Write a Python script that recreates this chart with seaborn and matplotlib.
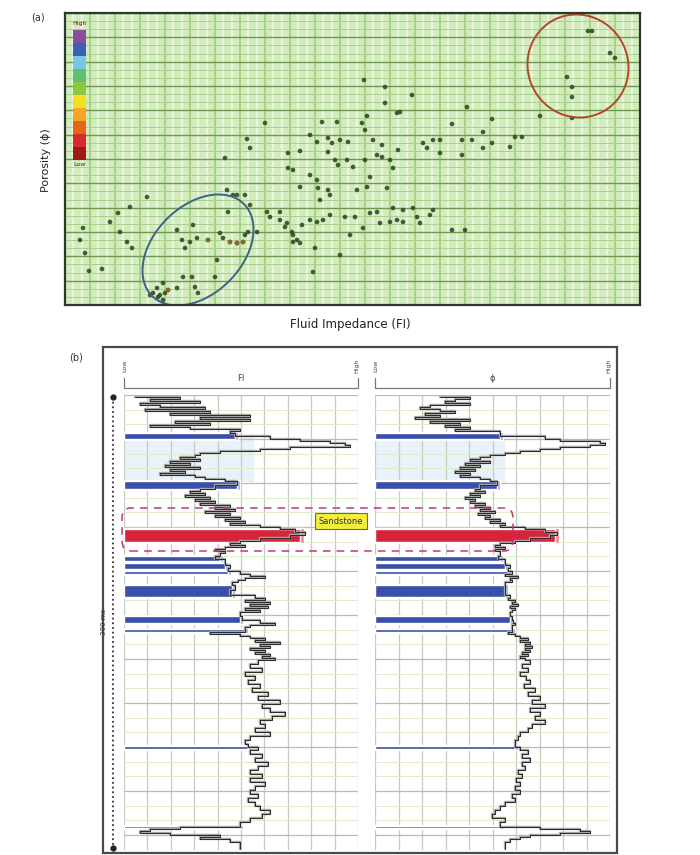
import numpy as np
import pandas as pd
import matplotlib
matplotlib.use('Agg')
import matplotlib.pyplot as plt
import seaborn as sns
from matplotlib.patches import Ellipse, Rectangle, FancyBboxPatch
from matplotlib.colors import ListedColormap
from matplotlib.ticker import MultipleLocator
from matplotlib.lines import Line2D

# ---------------- data: panel (a) crossplot (relative units) ----------------
fi_pts = [523, 527, 545, 550, 502, 507, 507, 475, 507,
          347, 387, 427, 418, 358, 362, 368, 375, 375, 397, 407, 397, 418, 427, 445, 450, 457, 402,
          299, 320, 320, 332, 335, 200, 257, 272, 297, 302, 182, 185, 160, 223, 235, 245, 252, 263,
          267, 275, 283, 263, 270, 273, 282, 288, 300, 308, 317, 312, 317, 325, 333, 328, 300, 305,
          223, 228, 245, 252, 235, 253, 263, 292, 302, 322, 255, 265, 280, 290, 312, 315, 305, 328,
          338, 348, 352, 365, 162, 168, 180, 185, 202, 205, 215, 222,
          82, 65, 53, 45, 18, 15, 55, 62, 67, 20, 24, 37, 172, 163, 112, 128, 117, 125, 132, 143,
          155, 158, 165, 172, 178, 183, 180, 120, 152, 118, 127, 150, 130, 98, 92, 88, 95, 100, 103,
          112, 98, 93, 85, 133, 192, 215, 232, 228, 250, 248,
          220, 227, 228, 235, 237, 245, 252, 258, 265, 325, 332, 338, 355, 368, 387, 400, 285, 298, 275]
phi_pts = [274, 274, 252, 247, 228, 218, 208, 189, 187,
           210, 181, 186, 173, 162, 157, 165, 165, 152, 165, 165, 150, 157, 162, 158, 168, 168, 198,
           225, 218, 202, 192, 193, 182, 183, 183, 182, 189, 166, 157, 147, 152, 154, 170, 163, 167,
           162, 165, 163, 153, 145, 140, 145, 138, 175, 165, 160, 150, 148, 145, 155, 137, 145, 128,
           137, 135, 130, 125, 118, 117, 115, 115, 118, 117, 105, 110, 88, 88, 93, 82, 92, 97,
           95, 97, 88, 90, 115, 110, 110, 100, 93, 88, 93, 82,
           108, 98, 92, 83, 77, 65, 73, 63, 57, 52, 34, 36, 110, 93, 75, 80, 65, 63, 67, 65,
           72, 67, 63, 62, 63, 73, 70, 57, 45, 28, 28, 28, 18, 22, 17, 12, 10, 12, 15,
           17, 5, 8, 10, 12, 73, 85, 65, 70, 57, 33,
           78, 73, 63, 62, 80, 85, 83, 85, 90, 83, 85, 83, 82, 95, 75, 75, 70, 77, 50]
warm_fi = [165, 172, 178, 143, 103]
warm_phi = [63, 62, 63, 65, 15]

cb_colors = ['#8b4c9e', '#3d5fb2', '#78c6e6', '#5fbf73', '#8dc63f',
             '#f2e21f', '#f5a623', '#e8641b', '#d62c26', '#9e1a1a']

# ---------------- data: panel (b) well logs ----------------
depth = [2, 4, 6, 8, 10, 12, 14, 16, 18, 20, 22, 24, 26, 28, 30, 32, 34, 36, 38, 41, 44, 46, 48,
         50, 52, 54, 56, 58, 60, 62, 64, 66, 68, 70, 72, 74, 76, 78, 80, 82, 84, 86, 90, 94, 96,
         98, 100, 102, 104, 106, 108, 110, 112, 114, 116, 118, 120, 122, 124, 126, 128, 130, 132,
         134, 137, 140, 143, 146, 148, 150, 152, 154, 156, 158, 161, 164, 167, 170, 173, 176, 179,
         181, 183, 185, 187, 190, 195, 200, 203, 205, 207, 209, 211, 213, 215, 217, 219, 221, 225,
         228, 230, 232, 234, 237, 239, 241, 243, 245, 247, 249, 251, 253, 255, 257, 259, 261, 263,
         265, 269, 273, 277, 281, 285, 289, 293, 297, 301, 305, 309, 313, 317, 321, 325, 329, 333,
         337, 341, 345, 349, 352, 355, 359, 363, 367, 371, 375, 379, 383, 387, 391, 395, 399, 403,
         407, 411, 415, 419, 423, 427, 432, 434, 436, 438, 440, 442, 444, 447, 451, 454]
fi_log = [11, 56, 26, 76, 16, 36, 81, 21, 86, 46, 126, 76, 126, 51, 86, 26, 66, 116, 106, 111, 146,
          176, 206, 221, 226, 166, 136, 96, 76, 71, 56, 76, 46, 66, 41, 76, 46, 61, 36, 71, 81, 101,
          113, 91, 76, 66, 81, 61, 86, 71, 91, 76, 106, 91, 111, 81, 106, 91, 116, 101, 121, 106, 136,
          156, 171, 181, 166, 136, 116, 106, 121, 101, 91, 101, 96, 91, 101, 101, 106, 104, 116, 126,
          141, 121, 114, 108, 111, 106, 131, 141, 121, 146, 126, 144, 121, 136, 116, 116, 118, 136,
          151, 126, 121, 121, 86, 116, 126, 141, 131, 156, 136, 146, 126, 141, 131, 146, 138, 151,
          134, 126, 138, 121, 131, 124, 136, 128, 144, 134, 156, 138, 146, 161, 148, 136, 141, 131,
          146, 126, 121, 124, 134, 126, 138, 131, 144, 134, 126, 138, 126, 141, 131, 126, 134, 124,
          131, 136, 146, 138, 126, 116, 56, 26, 16, 46, 96, 76, 106, 116, 116]
phi_log = [65, 95, 80, 70, 95, 55, 45, 65, 80, 50, 65, 40, 95, 55, 85, 70, 95, 80, 125, 125, 170,
           185, 225, 230, 215, 185, 165, 145, 130, 115, 105, 95, 115, 90, 105, 85, 100, 80, 95, 85,
           105, 115, 122, 105, 100, 110, 95, 105, 90, 100, 95, 110, 100, 115, 105, 120, 103, 115, 110,
           125, 115, 130, 125, 150, 170, 182, 175, 155, 140, 125, 120, 130, 120, 125, 125, 123, 130,
           130, 135, 133, 137, 130, 143, 135, 137, 130, 130, 130, 135, 133, 140, 137, 143, 135, 140,
           137, 135, 135, 137, 138, 140, 137, 137, 137, 133, 140, 145, 153, 145, 155, 150, 157, 150,
           155, 147, 153, 145, 150, 155, 147, 153, 145, 151, 155, 149, 160, 153, 165, 157, 170, 155,
           165, 160, 170, 157, 153, 145, 143, 140, 140, 145, 153, 147, 155, 147, 150, 143, 147, 141,
           145, 140, 145, 137, 140, 130, 125, 120, 117, 130, 125, 165, 205, 215, 185, 155, 145, 135,
           130, 130]

# highlighted low-FI intervals (blue) and sandstone interval (red)
bar_top = [38, 86, 161, 168, 176, 190, 221, 234, 351, 431]
bar_bot = [44, 94, 166, 174, 179, 202, 228, 237, 354, 433]
bar_fi = [111, 113, 96, 101, 104, 108, 116, 121, 124, 116]
bar_phi = [125, 122, 125, 130, 133, 130, 135, 137, 140, 125]
sand_top, sand_bot = 134, 147
sand_fi, sand_phi = 176, 180

# ---------------- figure ----------------
sns.set_theme(style='white')
plt.rcParams['font.family'] = ['DejaVu Sans']

W, H = 700, 855
fig = plt.figure(figsize=(7, 8.55), dpi=100)
fig.patch.set_facecolor('white')


def fbox(x0, y0, x1, y1):
    return [x0 / W, 1 - y1 / H, (x1 - x0) / W, (y1 - y0) / H]


def fx(x):
    return x / W


def fy(y):
    return 1 - y / H


# ---- panel (a) ----
axa = fig.add_axes(fbox(65, 13, 640, 305))
axa.set_facecolor('#d3ecbd')
axa.set_xlim(0, 575)
axa.set_ylim(0, 292)
axa.xaxis.set_major_locator(MultipleLocator(25))
axa.xaxis.set_minor_locator(MultipleLocator(25 / 3))
axa.yaxis.set_major_locator(MultipleLocator(292 / 12))
axa.yaxis.set_minor_locator(MultipleLocator(292 / 36))
axa.grid(which='minor', axis='x', color='#eaf6df', lw=1.6)
axa.grid(which='major', axis='x', color='#9ecb7f', lw=1.1)
axa.grid(which='minor', axis='y', color='#a9d28c', lw=0.7)
axa.grid(which='major', axis='y', color='#6e9a50', lw=1.0)
axa.set_axisbelow(True)
axa.tick_params(which='both', length=0, labelbottom=False, labelleft=False)
for s in axa.spines.values():
    s.set_color('#2b3a2b')
    s.set_linewidth(1.6)

sns.scatterplot(x=fi_pts, y=phi_pts, ax=axa, s=11, color='#2f4b2a',
                edgecolor='none', linewidth=0, legend=False, alpha=0.9)
sns.scatterplot(x=warm_fi, y=warm_phi, ax=axa, s=11, color='#8a6a2a',
                edgecolor='none', linewidth=0, legend=False)

axa.add_patch(Ellipse((133, 55), 130, 88, angle=45, fill=False,
                      ec='#3f6287', lw=1.4))
axa.add_patch(Ellipse((513, 239), 100, 104, angle=30, fill=False,
                      ec='#b4472b', lw=1.4))
axa.set_xlabel('')
axa.set_ylabel('')

# colour scale inset
axc = fig.add_axes(fbox(73, 30, 86, 160))
axc.imshow(np.arange(len(cb_colors))[:, None], cmap=ListedColormap(cb_colors),
           aspect='auto', interpolation='nearest')
axc.axis('off')
fig.text(fx(80), fy(23), 'High', fontsize=4.5, ha='center', va='center', color='#552222')
fig.text(fx(80), fy(165), 'Low', fontsize=4.5, ha='center', va='center', color='#552222')

fig.text(fx(38), fy(17), '(a)', fontsize=7, ha='center', va='center', color='#333333')
fig.text(fx(46), fy(160), 'Porosity (ϕ)', fontsize=8, rotation=90,
         ha='center', va='center', color='#222222')
fig.text(fx(350), fy(324), 'Fluid Impedance (FI)', fontsize=8.5,
         ha='center', va='center', color='#222222')

# ---- panel (b) ----
fig.add_artist(Rectangle((fx(103), fy(853)), (617 - 103) / W, (853 - 347) / H,
                         transform=fig.transFigure, fill=False, ec='#4a4a4a', lw=1.6))
fig.text(fx(76), fy(357), '(b)', fontsize=7, ha='center', va='center', color='#333333')

logs = pd.DataFrame({'depth': depth, 'fi': fi_log, 'phi': phi_log})

tracks = [
    (fbox(124, 395, 358, 850), 'fi', 234, bar_fi, sand_fi),
    (fbox(375, 395, 610, 850), 'phi', 235, bar_phi, sand_phi),
]
bar_c = [(t + b) / 2 for t, b in zip(bar_top, bar_bot)]
bar_h = [b - t for t, b in zip(bar_top, bar_bot)]

for pos, col, xmax, blen, slen in tracks:
    ax = fig.add_axes(pos)
    ax.set_facecolor('white')
    ax.set_xlim(0, xmax)
    ax.set_ylim(455, 0)
    ax.xaxis.set_major_locator(MultipleLocator(xmax / 10))
    ax.yaxis.set_major_locator(MultipleLocator(44))
    ax.yaxis.set_minor_locator(MultipleLocator(44 / 3))
    ax.grid(which='major', axis='x', color='#c3ccbd', lw=0.9)
    ax.grid(which='minor', axis='y', color='#dcedc8', lw=0.7)
    ax.grid(which='major', axis='y', color='#b5bdb5', lw=0.9)
    ax.set_axisbelow(True)
    ax.tick_params(which='both', length=0, labelbottom=False, labelleft=False)
    for s in ax.spines.values():
        s.set_visible(False)
    ax.axhspan(42, 86, xmax=0.55, color='#e9f2fa', zorder=0.5)

    # highlighted intervals
    ax.barh(bar_c, [v + 3 for v in blen], height=[h + 1.5 for h in bar_h], left=0,
            color='#9aa9e2', zorder=2)
    ax.barh(bar_c, blen, height=bar_h, left=0, color='#3a4fa9', zorder=2.2)
    ax.barh([(sand_top + sand_bot) / 2], [slen + 4], height=[sand_bot - sand_top + 2],
            left=0, color='#f08a94', zorder=2)
    ax.barh([(sand_top + sand_bot) / 2], [slen], height=[sand_bot - sand_top],
            left=0, color='#d8243a', zorder=2.2)

    sns.lineplot(data=logs, x=col, y='depth', sort=False, estimator=None,
                 orient='y', ax=ax, color='#a5a5a5', lw=1.7, zorder=3,
                 drawstyle='steps-post')
    sns.lineplot(data=logs, x=col, y='depth', sort=False, estimator=None,
                 orient='y', ax=ax, color='#151515', lw=0.6, zorder=3.5,
                 drawstyle='steps-post')
    ax.set_xlabel('')
    ax.set_ylabel('')
    ax.set_xlim(0, xmax)
    ax.set_ylim(455, 0)

# track headers
for x0, x1, name in [(124, 358, 'FI'), (375, 610, 'ϕ')]:
    fig.add_artist(Line2D([fx(x0), fx(x0), fx(x1), fx(x1)],
                          [fy(378), fy(388), fy(388), fy(378)],
                          color='#777777', lw=0.9))
    fig.text(fx((x0 + x1) / 2), fy(378), name, fontsize=6, ha='center', va='center',
             color='#444444')
    fig.text(fx(x0 + 1), fy(366), 'Low', fontsize=4.5, rotation=90, ha='center',
             va='center', color='#444444')
    fig.text(fx(x1 - 1), fy(366), 'High', fontsize=4.5, rotation=90, ha='center',
             va='center', color='#444444')

# depth axis
fig.add_artist(Line2D([fx(113), fx(113)], [fy(397), fy(848)], color='#333333',
                      lw=1.3, ls=(0, (1, 1.6))))
fig.add_artist(Line2D([fx(113), fx(113)], [fy(397), fy(848)], color='#222222',
                      ls='none', marker='o', ms=3.5))
fig.text(fx(104), fy(622), '300 ms', fontsize=5, rotation=90, ha='center',
         va='center', color='#333333')

# sandstone interval box and label
fig.add_artist(FancyBboxPatch((fx(122), fy(551)), (513 - 122) / W, (551 - 508) / H,
                              boxstyle='round,pad=0,rounding_size=0.012',
                              transform=fig.transFigure, fill=False,
                              ec='#c8347c', lw=1.1, ls=(0, (5, 4))))
fig.text(fx(341), fy(521), 'Sandstone', fontsize=6, ha='center', va='center',
         color='#333333',
         bbox=dict(boxstyle='square,pad=0.4', fc='#f2ee3a', ec='#666666', lw=0.8))

fig.savefig('out.png', dpi=100)
